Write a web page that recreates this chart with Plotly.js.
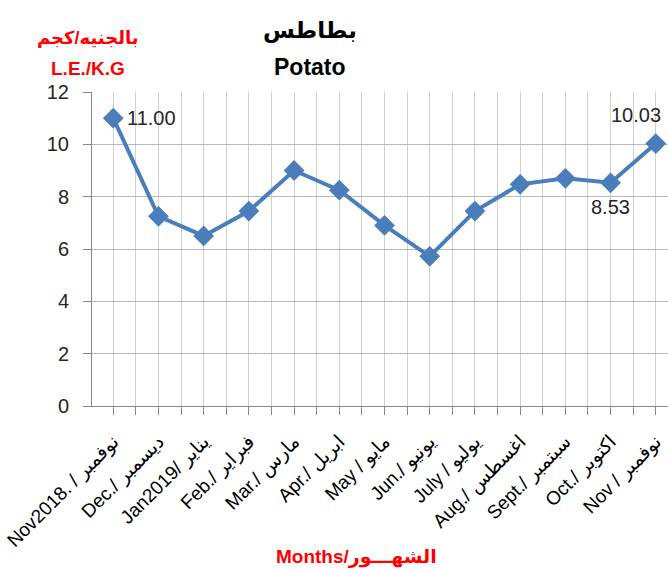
<!DOCTYPE html>
<html>
<head>
<meta charset="utf-8">
<script src="https://cdn.plot.ly/plotly-3.0.1.min.js"></script>
<style>html,body{margin:0;padding:0;background:#fff;overflow:hidden}</style>
</head>
<body>
<div id="chart" style="width:668px;height:570px"></div>
<script>
const monthLabels = [
  "Nov2018. / نوفمبر", "Dec./ ديسمبر", "Jan2019/ يناير", "Feb./ فبراير",
  "Mar./ مارس", "Apr./ ابريل", "May / مايو", "Jun./ يونيو",
  "July / يوليو", "Aug./ اغسطس", "Sept./ سبتمبر", "Oct./ اكتوبر", "Nov / نوفمبر"
];
const prices = [11.00, 7.25, 6.50, 7.45, 9.00, 8.25, 6.90, 5.72, 7.45, 8.47, 8.70, 8.53, 10.03];
const labelledPoints = [0, 11, 12];
const yTicks = [0, 2, 4, 6, 8, 10, 12];

// label offsets (pixels) for the value labels
const labelOffsets = {0: [38, 0], 11: [0, -24], 12: [-20, 29]};

const xIdx = monthLabels.map((_, i) => i);
const font = "'Liberation Sans', Arial, 'DejaVu Sans', sans-serif";

const trace = {
  x: xIdx, y: prices, type: "scatter", mode: "lines+markers",
  line: {color: "#4a7ebb", width: 4},
  marker: {symbol: "diamond", size: 16, color: "#4a7ebb"},
  cliponaxis: false, hoverinfo: "skip"
};

const valueAnnotations = labelledPoints.map(i => ({
  x: xIdx[i], y: prices[i], xref: "x", yref: "y", text: prices[i].toFixed(2),
  showarrow: false, xanchor: "center", yanchor: "middle",
  xshift: labelOffsets[i][0], yshift: labelOffsets[i][1],
  font: {family: font, size: 20, color: "#262626"}
}));

const layout = {
  width: 668, height: 570,
  margin: {l: 92, r: 0, t: 92, b: 164},
  paper_bgcolor: "#fff", plot_bgcolor: "#fff",
  showlegend: false,
  font: {family: font, color: "#262626"},
  title: {text: "<b>بطاطس</b>", x: 0.464, xanchor: "center", y: 0.948, yanchor: "middle",
          font: {family: font, size: 23, color: "#000"}},
  xaxis: {
    range: [-0.47, 12.27], tickmode: "array", tickvals: xIdx, ticktext: monthLabels,
    tickangle: -45, ticks: "", ticklabelstandoff: 16, showgrid: true, gridcolor: "#d0d0d0", gridwidth: 1,
    tickfont: {family: font, size: 19, color: "#000"},
    showline: true, linecolor: "#868686", linewidth: 1, zeroline: false,
    minor: {dtick: 0.5, tick0: 0, ticks: "outside", ticklen: 8, tickcolor: "#868686", tickwidth: 1,
            showgrid: true, gridcolor: "#d0d0d0", gridwidth: 1},
    fixedrange: true
  },
  yaxis: {
    range: [0, 12], tickmode: "array", tickvals: yTicks,
    ticks: "outside", ticklen: 8, tickcolor: "#868686", ticklabelstandoff: 10,
    showgrid: true, gridcolor: "#b8b8b8", gridwidth: 1,
    showline: true, linecolor: "#868686", linewidth: 1, zeroline: false,
    tickfont: {family: font, size: 20, color: "#262626"},
    fixedrange: true
  },
  annotations: [
    {text: "<b>Potato</b>", xref: "paper", yref: "paper",
     x: 0.378, y: 1.0, xanchor: "center", yanchor: "middle", yshift: 25, showarrow: false,
     font: {family: font, size: 23, color: "#000"}},
    {text: "<b>بالجنيه/كجم</b>", xref: "paper", yref: "paper",
     x: -0.007, y: 1.0, xanchor: "center", yanchor: "middle", yshift: 54, showarrow: false,
     font: {family: font, size: 18, color: "#ff0000"}},
    {text: "<b>L.E./K.G</b>", xref: "paper", yref: "paper",
     x: -0.007, y: 1.0, xanchor: "center", yanchor: "middle", yshift: 24, showarrow: false,
     font: {family: font, size: 19, color: "#ff0000"}},
    {text: "<b>Months/الشهـــور</b>", xref: "paper", yref: "paper",
     x: 0.46, y: 0, xanchor: "center", yanchor: "middle", yshift: -151, showarrow: false,
     font: {family: font, size: 19, color: "#ff0000"}}
  ].concat(valueAnnotations)
};

Plotly.newPlot("chart", [trace], layout, {displayModeBar: false, staticPlot: true});
</script>
</body>
</html>
